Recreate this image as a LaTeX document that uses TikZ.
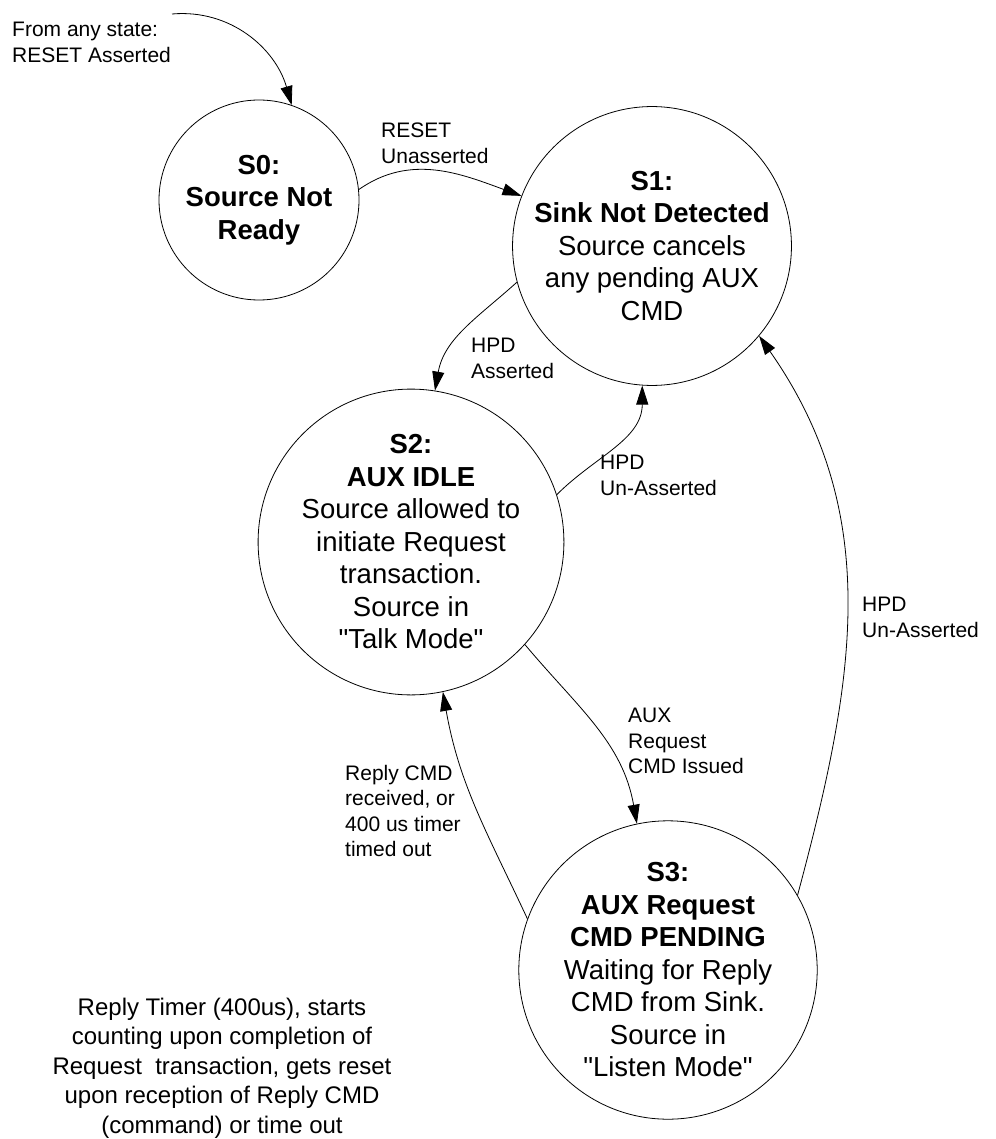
\documentclass[tikz,border=0pt]{standalone}
\usepackage{fontspec}
\setmainfont{Liberation Sans}[Ligatures=TeXOff]
\usetikzlibrary{arrows.meta}
\begin{document}
\begin{tikzpicture}[
  state/.style={draw, circle, line width=0.8pt, minimum size=#1, inner sep=0pt, align=center, font=\fontsize{27.5}{32.5}\selectfont},
  lbl/.style={anchor=north west, align=left, inner sep=0pt, font=\fontsize{21}{25.5}\selectfont},
  note/.style={align=center, inner sep=0pt, font=\fontsize{24}{29.5}\selectfont},
  arr/.style={line width=0.8pt, -{Triangle[length=19pt,width=12pt]}},
  x=1pt, y=1pt
]
\useasboundingbox (0,0) rectangle (995,-1139);
\node[state=200pt] (s0) at (259,-200) {\textbf{S0:}\\\textbf{Source Not}\\\textbf{Ready}};
\node[state=264pt] (s1) at (652,-246) {\textbf{S1:}\\\textbf{Sink Not Detected}\\Source cancels\\any pending AUX\\CMD};
\node[state=286pt] (s2) at (411,-542) {\textbf{S2:}\\\textbf{AUX IDLE}\\Source allowed to\\initiate Request\\transaction.\\Source in\\"Talk Mode"};
\node[state=280pt] (s3) at (668,-970) {\textbf{S3:}\\\textbf{AUX Request}\\\textbf{CMD PENDING}\\Waiting for Reply\\CMD from Sink.\\Source in\\"Listen Mode"};
\coordinate (init) at (172,-14);
\node[lbl] (linit) at (12,-22) {From any state:\\RESET Asserted};
\node[lbl] (l01) at (381,-123) {RESET\\Unasserted};
\node[lbl] (l12) at (471,-338) {HPD\\Asserted};
\node[lbl] (l21) at (600,-455) {HPD\\Un-Asserted};
\node[lbl] (l31) at (862,-597) {HPD\\Un-Asserted};
\node[lbl] (l23) at (628,-708) {AUX\\Request\\CMD Issued};
\node[lbl] (l32) at (345,-765) {Reply CMD\\received, or\\400 us timer\\timed out};
\node[note] (nt) at (222,-1068) {Reply Timer (400us), starts\\counting upon completion of\\Request\ \ transaction, gets reset\\upon reception of Reply CMD\\(command) or time out};
\draw[arr] (init) to[out=5,in=106] (s0.71);
\draw[arr] (s0.6) to[out=35,in=160] (s1.159);
\draw[arr] (s1.195) to[out=222,in=80] (s2.81);
\draw[arr] (s2.18) to[out=45,in=270] (s1.266);
\draw[arr] (s2.-42) to[out=-50,in=100] (s3.102);
\draw[arr] (s3.160) to[out=115,in=-80] (s2.-78);
\draw[arr] (s3.30) to[out=75,in=-55] (s1.-40);
\end{tikzpicture}
\end{document}
